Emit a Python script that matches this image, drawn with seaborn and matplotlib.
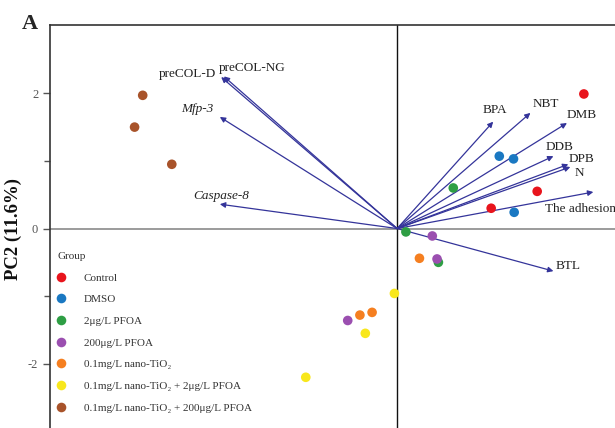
import matplotlib
matplotlib.use("Agg")
import matplotlib.pyplot as plt
import seaborn as sns
import pandas as pd

# ---- data ----
groups = ["Control", "DMSO", "2μg/L PFOA", "200μg/L PFOA",
          "0.1mg/L nano-TiO₂", "0.1mg/L nano-TiO₂ + 2μg/L PFOA",
          "0.1mg/L nano-TiO₂ + 200μg/L PFOA"]
colors = ["#e8141c", "#1a78c2", "#2e9e44", "#9b4fb0", "#f57f20", "#f8e71c", "#a8532a"]

pc1_control = [2.76, 2.07, 1.39]
pc2_control = [1.99, 0.55, 0.30]
pc1_dmso = [1.51, 1.72, 1.73]
pc2_dmso = [1.07, 1.03, 0.24]
pc1_pfoa2 = [0.83, 0.13, 0.61]
pc2_pfoa2 = [0.60, -0.05, -0.50]
pc1_pfoa200 = [0.52, 0.59, -0.73]
pc2_pfoa200 = [-0.11, -0.45, -1.36]
pc1_tio2 = [0.33, -0.55, -0.37]
pc2_tio2 = [-0.44, -1.28, -1.24]
pc1_tio2_pfoa2 = [-0.04, -0.47, -1.35]
pc2_tio2_pfoa2 = [-0.96, -1.55, -2.20]
pc1_tio2_pfoa200 = [-3.76, -3.88, -3.33]
pc2_tio2_pfoa200 = [1.97, 1.50, 0.95]

var_names = ["preCOL-D", "preCOL-NG", "Mfp-3", "Caspase-8", "BPA", "NBT", "DMB",
             "DDB", "DPB", "N", "The adhesion", "BTL"]
load_pc1 = [-2.60, -2.56, -2.62, -2.62, 1.42, 1.97, 2.51, 2.31, 2.53, 2.56, 2.90, 2.31]
load_pc2 = [2.24, 2.25, 1.65, 0.36, 1.58, 1.71, 1.56, 1.07, 0.95, 0.91, 0.54, -0.63]
italic_vars = ["Mfp-3", "Caspase-8"]
# text anchor offsets (data units) and alignment
label_pos = {
    "preCOL-D": (-2.68, 2.29, "right"),
    "preCOL-NG": (-2.63, 2.38, "left"),
    "Mfp-3": (-2.72, 1.77, "right"),
    "Caspase-8": (-3.02, 0.48, "left"),
    "BPA": (1.26, 1.75, "left"),
    "NBT": (2.00, 1.84, "left"),
    "DMB": (2.51, 1.68, "left"),
    "DDB": (2.19, 1.21, "left"),
    "DPB": (2.53, 1.03, "left"),
    "N": (2.62, 0.82, "left"),
    "The adhesion": (2.19, 0.29, "left"),
    "BTL": (2.34, -0.55, "left"),
}

series = [(pc1_control, pc2_control), (pc1_dmso, pc2_dmso), (pc1_pfoa2, pc2_pfoa2),
          (pc1_pfoa200, pc2_pfoa200), (pc1_tio2, pc2_tio2),
          (pc1_tio2_pfoa2, pc2_tio2_pfoa2), (pc1_tio2_pfoa200, pc2_tio2_pfoa200)]
rows = []
for g, (xs, ys) in zip(groups, series):
    for x, y in zip(xs, ys):
        rows.append({"PC1": x, "PC2": y, "Group": g})
df = pd.DataFrame(rows)

# ---- plot ----
sns.set_style("white")
plt.rcParams["font.family"] = ["Liberation Serif", "DejaVu Serif"]

fig = plt.figure(figsize=(6.15, 4.28), dpi=100)
ax = fig.add_axes([50 / 615, 0, 1 - 50 / 615, 403 / 428])
ax.set_xlim(-5.13, 3.22)
ax.set_ylim(-2.95, 3.01)

ax.axhline(0, color="#8a8a8a", lw=1.2, zorder=1)
ax.axvline(0, color="#111111", lw=1.0, zorder=1)

arrow_color = "#34349a"
for name, x, y in zip(var_names, load_pc1, load_pc2):
    ax.annotate("", xy=(x, y), xytext=(0, 0),
                arrowprops=dict(arrowstyle="-|>", color=arrow_color, lw=0.9,
                                mutation_scale=8, shrinkA=0, shrinkB=0), zorder=2)
    tx, ty, ha = label_pos[name]
    ax.text(tx, ty, name, ha=ha, va="center", fontsize=9.5, color="#222222",
            style="italic" if name in italic_vars else "normal", zorder=3)

sns.scatterplot(data=df, x="PC1", y="PC2", hue="Group", hue_order=groups,
                palette=colors, s=48, linewidth=0, ax=ax, zorder=4)

leg = ax.legend(title="Group", loc="upper left", frameon=False,
                bbox_to_anchor=(48 / 615, 1 - 242 / 428), bbox_transform=fig.transFigure,
                fontsize=8, title_fontsize=8, labelspacing=1.07,
                handletextpad=1.7, handlelength=0.6, markerscale=1.0)
leg._legend_box.align = "left"
for t in leg.get_texts():
    t.set_color("#333333")
leg.get_title().set_color("#333333")

for side in ["right", "bottom"]:
    ax.spines[side].set_visible(False)
for side in ["left", "top"]:
    ax.spines[side].set_visible(True)
    ax.spines[side].set_color("#333333")
    ax.spines[side].set_linewidth(1.2)

ax.set_xticks([])
ax.set_yticks([-2, 0, 2])
ax.set_yticklabels(["-2", "0", "2"])
ax.set_yticks([-1, 1], minor=True)
ax.tick_params(axis="y", which="both", left=True, direction="out", colors="#555555",
               labelsize=9, length=5, width=1)
ax.tick_params(axis="y", which="minor", length=4)
ax.set_xlabel("")
ax.set_ylabel("PC2 (11.6%)", fontsize=13.5, fontweight="bold", color="#111111")
ax.yaxis.set_label_coords(-28 / 565, (403 - (228.5 - 25)) / 403)

fig.text(30 / 615, 1 - 24 / 428, "A", fontsize=16, fontweight="bold", ha="center", va="center")

fig.savefig("out.png", dpi=100)
